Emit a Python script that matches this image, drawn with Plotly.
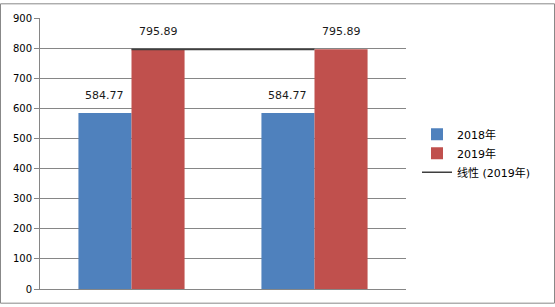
import numpy as np
import plotly.graph_objects as go

categories = ["类别1", "类别2"]
values_2018 = [584.77, 584.77]
values_2019 = [795.89, 795.89]
series_names = ["2018年", "2019年"]
trend_name = "线性 (2019年)"
y_ticks = [0, 100, 200, 300, 400, 500, 600, 700, 800, 900]

# linear trendline of 2019 series (Excel style, over category indices)
idx = np.arange(1, len(categories) + 1)
coef = np.polyfit(idx, values_2019, 1)
trend_vals = list(np.polyval(coef, idx))

W, H = 555, 307
ml, mr, mt, mb = 40, 149, 15, 15
pw, ph = W - ml - mr, H - mt - mb

font = "DejaVu Sans, Noto Sans CJK SC, sans-serif"

fig = go.Figure()
fig.add_trace(go.Bar(x=categories, y=values_2018, name=series_names[0],
                     marker=dict(color="#4F81BD", line=dict(width=0))))
fig.add_trace(go.Bar(x=categories, y=values_2019, name=series_names[1],
                     marker=dict(color="#C0504D", line=dict(width=0))))
fig.add_trace(go.Scatter(x=categories, y=trend_vals, name=trend_name, mode="lines",
                         line=dict(color="#3F3F3F", width=1.6)))

# data labels
bar_half = pw / len(categories) * 0.58 / 4
for i, c in enumerate(categories):
    for vals, sh in ((values_2018, -bar_half), (values_2019, bar_half)):
        fig.add_annotation(x=c, y=vals[i], text=f"{vals[i]:.2f}", showarrow=False,
                           xshift=sh, yshift=9, yanchor="bottom",
                           font=dict(family=font, size=11, color="#1a1a1a"))

# outer chart border
fig.add_shape(type="rect", xref="paper", yref="paper",
              x0=-(ml - 0.5) / pw, x1=1 + (mr - 0.5) / pw,
              y0=-(mb - 0.5) / ph, y1=1 + (mt - 0.5) / ph,
              line=dict(color="#888888", width=1), layer="below")

fig.update_layout(
    width=W, height=H,
    margin=dict(l=ml, r=mr, t=mt, b=mb),
    paper_bgcolor="white", plot_bgcolor="white",
    barmode="group", bargap=0.42, bargroupgap=0,
    showlegend=True,
    legend=dict(x=(417 - ml) / pw, y=(292 - 119) / ph, xanchor="left", yanchor="top",
                font=dict(family=font, size=11, color="#000000"),
                bgcolor="rgba(0,0,0,0)", tracegroupgap=0, itemwidth=30),
    xaxis=dict(showticklabels=False, ticks="", showgrid=False,
               showline=True, linecolor="#868686", linewidth=1, zeroline=False),
    yaxis=dict(range=[0, 900], tickvals=y_ticks, ticks="outside", ticklen=5,
               tickcolor="#868686", showline=True, linecolor="#868686", linewidth=1,
               showgrid=True, gridcolor="#868686", gridwidth=1, zeroline=False,
               tickfont=dict(family=font, size=10, color="#000000")),
)

fig.write_html("out.html")
